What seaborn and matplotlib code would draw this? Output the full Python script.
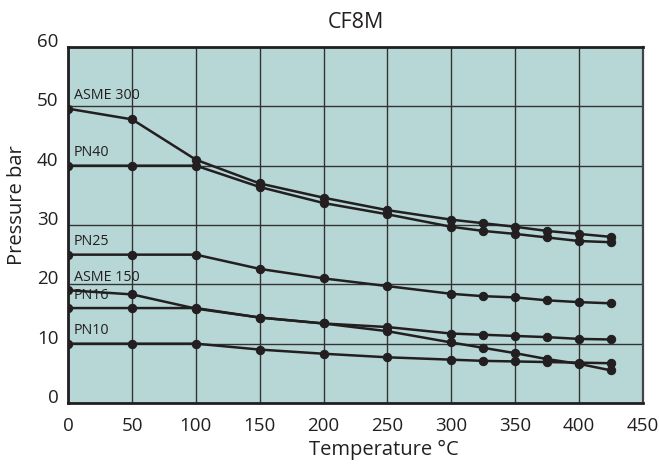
import matplotlib
matplotlib.use("Agg")
import matplotlib.pyplot as plt
import seaborn as sns
import pandas as pd

# temperatures (°C) at which the ratings are given
temps = [0, 50, 100, 150, 200, 250, 300, 325, 350, 375, 400, 425]

# pressure ratings (bar)
asme300 = [49.6, 47.8, 41.0, 37.0, 34.6, 32.5, 30.9, 30.3, 29.7, 29.0, 28.5, 28.0]
pn40 = [40.0, 40.0, 40.0, 36.4, 33.7, 31.8, 29.7, 29.0, 28.5, 27.9, 27.3, 27.1]
pn25 = [25.0, 25.0, 25.0, 22.6, 21.0, 19.7, 18.4, 18.0, 17.8, 17.3, 17.0, 16.8]
asme150 = [19.0, 18.3, 15.9, 14.4, 13.4, 12.1, 10.2, 9.3, 8.4, 7.4, 6.6, 5.5]
pn16 = [16.0, 16.0, 16.0, 14.4, 13.4, 12.8, 11.7, 11.5, 11.3, 11.1, 10.8, 10.7]
pn10 = [10.0, 10.0, 10.0, 9.0, 8.3, 7.7, 7.3, 7.1, 7.0, 6.9, 6.8, 6.7]

series_names = ["ASME 300", "PN40", "PN25", "ASME 150", "PN16", "PN10"]
series_values = [asme300, pn40, pn25, asme150, pn16, pn10]

x_ticks = [0, 50, 100, 150, 200, 250, 300, 350, 400, 450]
y_ticks = [0, 10, 20, 30, 40, 50, 60]

sns.set_style("white")
plt.rcParams["font.family"] = ["Open Sans", "DejaVu Sans"]

ink = "#231f20"
bg = "#b7d6d6"

# long-form table for seaborn
rows = []
for name, vals in zip(series_names, series_values):
    for t, v in zip(temps, vals):
        rows.append({"Temperature": t, "Pressure": v, "Rating": name})
df = pd.DataFrame(rows)

fig = plt.figure(figsize=(6.59, 4.70), dpi=100)
ax = fig.add_axes([0.1036, 0.1426, 0.8716, 0.7574])
ax.set_facecolor(bg)

sns.lineplot(data=df, x="Temperature", y="Pressure", units="Rating",
             estimator=None, color=ink, linewidth=1.8, marker="o",
             markersize=6, markeredgecolor=ink, markerfacecolor=ink,
             ax=ax, legend=False, zorder=3)

# curve labels just above the first point
for name, vals in zip(series_names, series_values):
    ax.text(4.5, vals[0] + 0.9, name, fontsize=10.3, color=ink,
            ha="left", va="bottom", zorder=4)

ax.set_xlim(0, 450)
ax.set_ylim(0, 60)
ax.set_xticks(x_ticks)
ax.set_yticks(y_ticks)
ax.grid(True, color="#333333", linewidth=1.0)
ax.set_axisbelow(True)
ax.tick_params(axis="both", length=0, labelsize=13.5, labelcolor=ink)
ax.tick_params(axis="x", pad=10)
ax.tick_params(axis="y", pad=7)
for lbl in ax.get_yticklabels():
    lbl.set_va("baseline")

for side in ["left", "bottom", "top"]:
    ax.spines[side].set_color(ink)
    ax.spines[side].set_linewidth(2.0)
ax.spines["right"].set_color("#444444")
ax.spines["right"].set_linewidth(1.6)

ax.set_xlabel("Temperature °C", fontsize=14.5, color=ink)
ax.xaxis.set_label_coords(0.55, -0.105)
ax.set_ylabel("Pressure bar", fontsize=14.5, color=ink)
ax.yaxis.set_label_coords(-0.072, 0.556)
ax.set_title("CF8M", fontsize=15.5, color=ink, pad=14)

fig.savefig("out.png", dpi=100, facecolor="white")
